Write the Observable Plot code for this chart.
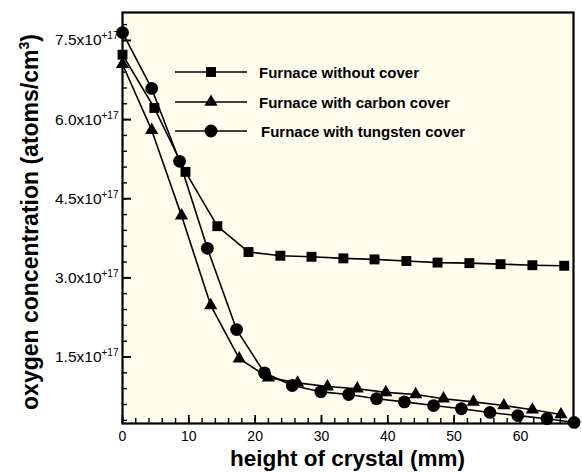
<!DOCTYPE html>
<html>
<head>
<meta charset="utf-8">
<script src="https://cdn.jsdelivr.net/npm/d3@7"></script>
<script src="https://cdn.jsdelivr.net/npm/@observablehq/plot@0.6"></script>
<style>
  body { margin: 0; background: #ffffff; }
  #chart { width: 582px; height: 472px; }
</style>
</head>
<body>
<div id="chart"></div>
<script>
// ---- data (oxygen concentration in units of 1e17 atoms/cm^3) ----
const seriesNames = ["Furnace without cover", "Furnace with carbon cover", "Furnace with tungsten cover"];
const seriesSymbols = ["square", "triangle", "circle"];

const xNoCover = [0, 4.8, 9.5, 14.3, 19.0, 23.8, 28.5, 33.3, 38.0, 42.8, 47.5, 52.3, 57.0, 61.8, 66.6];
const yNoCover = [7.23, 6.22, 5.01, 3.98, 3.49, 3.42, 3.40, 3.37, 3.35, 3.32, 3.29, 3.28, 3.26, 3.24, 3.23];

const xCarbon = [0, 4.4, 8.9, 13.3, 17.6, 22.0, 26.4, 30.9, 35.4, 39.7, 44.2, 48.4, 52.9, 57.5, 61.8, 66.1];
const yCarbon = [7.05, 5.80, 4.18, 2.48, 1.47, 1.11, 1.01, 0.94, 0.90, 0.83, 0.79, 0.71, 0.65, 0.58, 0.50, 0.41];

const xTungsten = [0, 4.4, 8.6, 12.8, 17.2, 21.4, 25.6, 29.9, 34.1, 38.3, 42.5, 46.9, 51.1, 55.4, 59.6, 64.0, 68.1];
const yTungsten = [7.65, 6.59, 5.21, 3.56, 2.02, 1.20, 0.96, 0.84, 0.79, 0.71, 0.65, 0.58, 0.52, 0.45, 0.39, 0.33, 0.26];

const xMajorTicks = [0, 10, 20, 30, 40, 50, 60];
const xMinorTicks = d3.range(0, 69, 2);
const yMajorTicks = [1.5, 3.0, 4.5, 6.0, 7.5];
const yTickMantissa = ["1.5x10", "3.0x10", "4.5x10", "6.0x10", "7.5x10"];
const yTickExponent = "+17";
const yMinorTicks = d3.range(0.3, 8.0, 0.3).map(v => Math.round(v * 10) / 10);

const xTitle = "height of crystal (mm)";
const yTitleMain = "oxygen concentration (atoms/cm";
const yTitleSup = "3";
const yTitleEnd = ")";

// ---- build tables ----
const toRows = (xs, ys, name) => xs.map((x, i) => ({series: name, x, y: ys[i]}));
const rowsNoCover = toRows(xNoCover, yNoCover, seriesNames[0]);
const rowsCarbon = toRows(xCarbon, yCarbon, seriesNames[1]);
const rowsTungsten = toRows(xTungsten, yTungsten, seriesNames[2]);

const FONT = "'Liberation Sans', Arial, Helvetica, sans-serif";
const BG = "#FFFDEE";
const R = {square: 5.6, triangle: 4.9, circle: 6.4};

const svg = Plot.plot({
  width: 582,
  height: 472,
  marginLeft: 122,
  marginRight: 9,
  marginTop: 12,
  marginBottom: 49,
  style: {fontFamily: FONT, background: "#ffffff", color: "#000000", overflow: "visible"},
  x: {domain: [0, 68], label: null},
  y: {domain: [0.24, 8.03], label: null},
  marks: [
    Plot.frame({fill: BG, stroke: null}),
    // inward ticks: outward ticks shifted back inside by their own length
    Plot.axisX({ticks: xMinorTicks, tickSize: 5, dy: -5, tickFormat: () => "", stroke: "black", strokeWidth: 1.4, label: null}),
    Plot.axisX({ticks: xMajorTicks, tickSize: 8, dy: -8, tickPadding: 8, fontSize: 14, stroke: "black", strokeWidth: 1.8, label: null}),
    Plot.axisY({ticks: yMinorTicks, tickSize: 5, dx: 5, tickFormat: () => "", stroke: "black", strokeWidth: 1.4, label: null}),
    Plot.axisY({ticks: yMajorTicks, tickSize: 9, dx: 9, tickPadding: 4, fontSize: 15.5, stroke: "black", strokeWidth: 2,
      tickFormat: d => yTickMantissa[yMajorTicks.indexOf(d)], label: null}),
    Plot.line(rowsNoCover, {x: "x", y: "y", stroke: "black", strokeWidth: 1.6}),
    Plot.line(rowsCarbon, {x: "x", y: "y", stroke: "black", strokeWidth: 1.6}),
    Plot.line(rowsTungsten, {x: "x", y: "y", stroke: "black", strokeWidth: 1.6}),
    Plot.dot(rowsNoCover, {x: "x", y: "y", symbol: "square", r: R.square, fill: "black", stroke: "none"}),
    Plot.dot(rowsCarbon, {x: "x", y: "y", symbol: "triangle", r: R.triangle, fill: "black", stroke: "none"}),
    Plot.dot(rowsTungsten, {x: "x", y: "y", symbol: "circle", r: R.circle, fill: "black", stroke: "none"}),
    Plot.frame({stroke: "black", strokeWidth: 2.2})
  ]
});

document.getElementById("chart").appendChild(svg);

const s = d3.select(svg);

// remove empty labels of the minor-tick axes, add superscript exponents on the y tick labels
s.selectAll('g[aria-label="x-axis tick label"] text, g[aria-label="y-axis tick label"] text').each(function () {
  if (this.textContent === "") this.remove();
});
s.selectAll('g[aria-label="y-axis tick label"] text').each(function () {
  if (yTickMantissa.includes(this.textContent)) {
    d3.select(this).append("tspan").attr("dy", "-6").attr("font-size", 10).text(yTickExponent);
  }
});

// axis titles
s.append("text")
  .attr("x", 347.5).attr("y", 466)
  .attr("text-anchor", "middle")
  .attr("font-family", FONT).attr("font-weight", "bold").attr("font-size", 22.5)
  .attr("fill", "black")
  .text(xTitle);

const yt = s.append("text")
  .attr("transform", "translate(38,222) rotate(-90)")
  .attr("text-anchor", "middle")
  .attr("font-family", FONT).attr("font-weight", "bold").attr("font-size", 23)
  .attr("fill", "black");
yt.append("tspan").text(yTitleMain);
yt.append("tspan").attr("dy", -9).attr("font-size", 14).text(yTitleSup);
yt.append("tspan").attr("dy", 9).text(yTitleEnd);

// legend
const legendRows = [72, 102, 131];
const legendTextX = [259, 259, 261];
const lg = s.append("g").attr("aria-label", "legend").attr("text-anchor", "start");
seriesNames.forEach((name, i) => {
  const cy = legendRows[i];
  lg.append("line").attr("x1", 175).attr("x2", 247).attr("y1", cy).attr("y2", cy)
    .attr("stroke", "black").attr("stroke-width", 1.6);
  const sym = {square: d3.symbolSquare, triangle: d3.symbolTriangle, circle: d3.symbolCircle}[seriesSymbols[i]];
  const r = R[seriesSymbols[i]];
  lg.append("path")
    .attr("transform", `translate(211,${cy})`)
    .attr("d", d3.symbol(sym, r * r * Math.PI)())
    .attr("fill", "black");
  lg.append("text").attr("x", legendTextX[i]).attr("y", cy + 5.5)
    .attr("text-anchor", "start")
    .attr("font-family", FONT).attr("font-weight", "bold").attr("font-size", 15)
    .attr("fill", "black").text(name);
});
</script>
</body>
</html>
